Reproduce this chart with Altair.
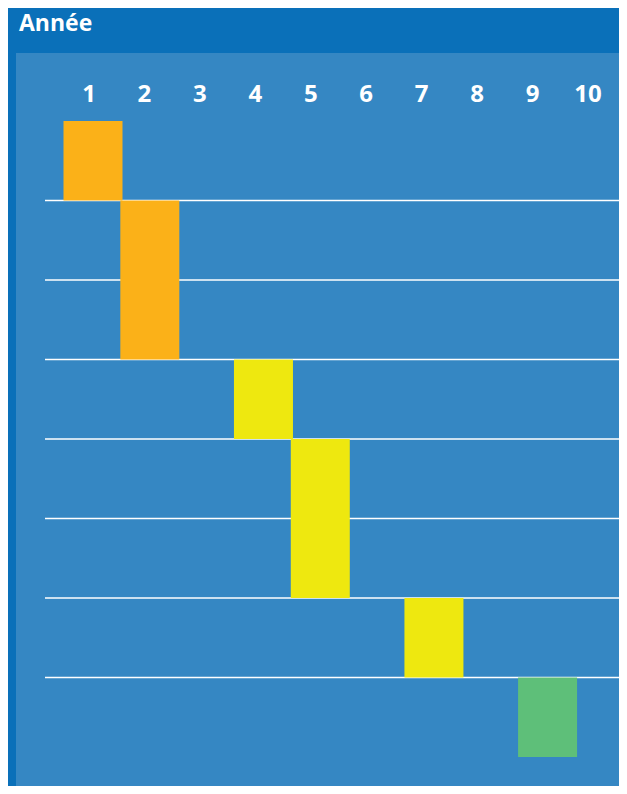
import altair as alt
import pandas as pd

# Data
title_text = ["Année"]
columns = [1, 2, 3, 4, 5, 6, 7, 8, 9, 10]
bar_cols = [1, 2, 4, 5, 7, 9]
bar_start = [0, 1, 3, 4, 6, 7]
bar_end = [1, 3, 4, 6, 7, 8]
bar_group = ["orange", "orange", "yellow", "yellow", "yellow", "green"]
row_lines = [1, 2, 3, 4, 5, 6, 7]

bars_df = pd.DataFrame({"col": bar_cols, "start": bar_start, "end": bar_end, "group": bar_group})
cols_df = pd.DataFrame({"col": columns, "label": [str(c) for c in columns]})
lines_df = pd.DataFrame({"row": row_lines})
title_df = pd.DataFrame({"t": title_text})

W, H = 603, 733
yscale = alt.Scale(domain=[0, 8], range=[68, 704])

lines = alt.Chart(lines_df).mark_rule(color="white", strokeWidth=1.3).encode(
    y=alt.Y("row:Q", scale=yscale, axis=None),
    x=alt.value(29),
    x2=alt.value(W),
)

bars = alt.Chart(bars_df).mark_bar(size=59, cornerRadius=0).encode(
    x=alt.X("col:Q", scale=alt.Scale(domain=[1, 10], range=[77, 588.4], padding=0), axis=None),
    y=alt.Y("start:Q", scale=yscale, axis=None),
    y2="end:Q",
    color=alt.Color("group:N",
                    scale=alt.Scale(domain=["orange", "yellow", "green"],
                                    range=["#fbb118", "#eee80f", "#5ebf79"]),
                    legend=None),
)

labels = alt.Chart(cols_df).mark_text(
    font="Open Sans", fontWeight="bold", fontSize=24, color="white",
    baseline="middle", align="center",
).encode(
    x=alt.X("col:Q", scale=alt.Scale(domain=[1, 10], range=[73, 572]), axis=None),
    y=alt.value(42),
    text="label:N",
)

title = alt.Chart(title_df).mark_text(
    font="Open Sans", fontWeight="bold", fontSize=23, color="white",
    baseline="alphabetic", align="left",
).encode(
    x=alt.value(3),
    y=alt.value(-22),
    text="t:N",
)

chart = alt.layer(lines, bars, labels, title).resolve_scale(x="independent").properties(
    width=W,
    height=H,
    background="#0a70b9",
    padding={"left": 8, "top": 45, "right": 0, "bottom": 0},
    autosize=alt.AutoSizeParams(type="none"),
).configure_view(fill="#3587c3", stroke=None)

chart.save("out.html", embed_options={"renderer": "svg", "actions": False})
